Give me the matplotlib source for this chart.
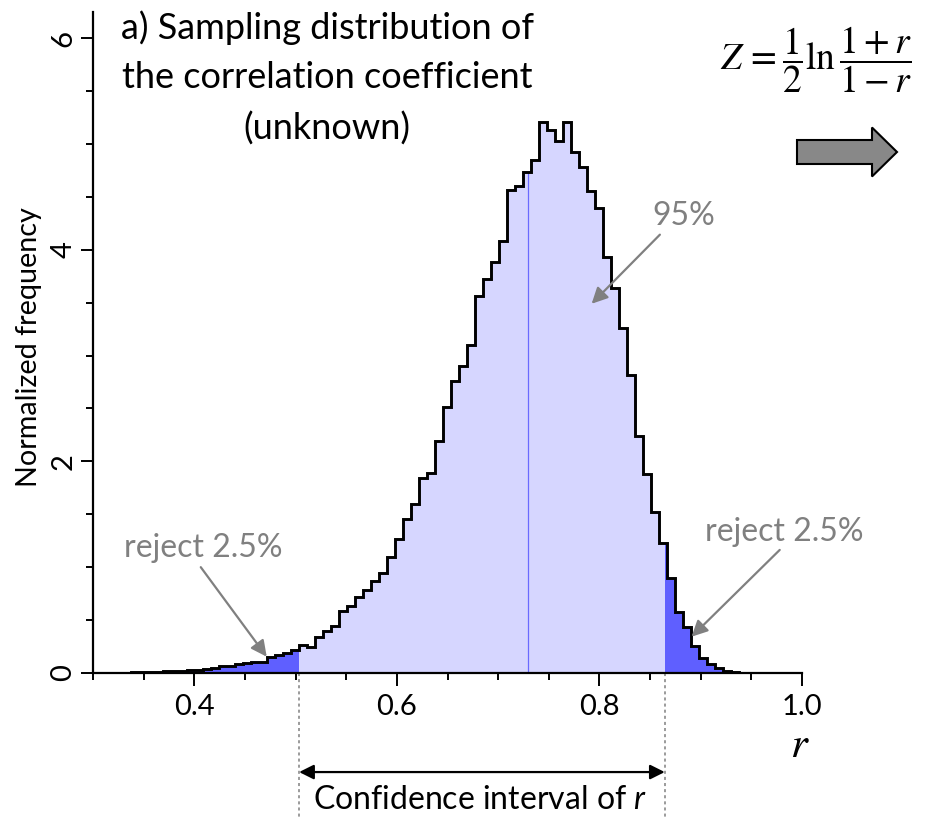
import numpy as np
import matplotlib
matplotlib.use("Agg")
import matplotlib.pyplot as plt
from matplotlib.patches import FancyArrow, Rectangle
from matplotlib.transforms import IdentityTransform
from matplotlib.ticker import MultipleLocator

plt.rcParams['font.family'] = ['Lato', 'DejaVu Sans']
plt.rcParams['mathtext.fontset'] = 'custom'
plt.rcParams['mathtext.rm'] = 'Lato'
plt.rcParams['mathtext.it'] = 'Lato:italic'

# ---------------- data ----------------
bin_start = 0.3220
bin_width = 0.0079
density = [
    0.003, 0.004, 0.006, 0.008, 0.010, 0.012, 0.015, 0.018, 0.022, 0.024,
    0.025, 0.041, 0.047, 0.063, 0.070, 0.085, 0.092, 0.100, 0.107, 0.148,
    0.170, 0.192, 0.217, 0.265, 0.249, 0.337, 0.400, 0.448, 0.586, 0.634,
    0.716, 0.785, 0.867, 0.949, 1.100, 1.264, 1.453, 1.598, 1.847, 1.894,
    2.190, 2.510, 2.755, 2.897, 3.100, 3.565, 3.720, 3.880, 4.085, 4.567,
    4.605, 4.730, 4.845, 5.204, 5.128, 5.030, 5.207, 4.927, 4.780, 4.550,
    4.390, 3.930, 3.638, 3.260, 2.812, 2.241, 1.882, 1.526, 1.226, 0.895,
    0.580, 0.430, 0.255, 0.139, 0.085, 0.044, 0.019, 0.010,
]
ci_low = 0.5035
ci_high = 0.8645
mean_r = 0.7297
x_ticks = [0.4, 0.6, 0.8, 1.0]
x_tick_labels = ['0.4', '0.6', '0.8', '1.0']
y_ticks = [0, 2, 4, 6]
y_tick_labels = ['0', '2', '4', '6']

density = np.array(density)
edges = bin_start + bin_width * np.arange(len(density) + 1)

# ---------------- figure ----------------
fig = plt.figure(figsize=(9.3, 8.18), dpi=100)
ax = fig.add_axes([93 / 930, 1 - 673 / 818, 709 / 930, 661 / 818])
ax.set_xlim(0.30, 1.0)
ax.set_ylim(0, 6.246)

light_c = '#d6d6ff'
dark_c = '#5f5fff'

ax.stairs(density, edges, fill=True, color=light_c, lw=0, zorder=1)
for a, b in [(0.0, ci_low), (ci_high, 2.0)]:
    s = ax.stairs(density, edges, fill=True, color=dark_c, lw=0, zorder=1.5)
    rect = Rectangle((a, -1), b - a, 20, transform=ax.transData)
    s.set_clip_path(rect)

idx = int((mean_r - bin_start) // bin_width)
ax.plot([mean_r, mean_r], [0, density[idx]], color='#6a6aff', lw=0.9, zorder=2)

ax.stairs(density, edges, color='black', lw=2.1, baseline=0, zorder=3)

for side in ['top', 'right']:
    ax.spines[side].set_visible(False)
for side in ['left', 'bottom']:
    ax.spines[side].set_linewidth(1.6)
    ax.spines[side].set_zorder(4)

ax.set_xticks(x_ticks)
ax.set_xticklabels(x_tick_labels)
ax.set_yticks(y_ticks)
ax.set_yticklabels(y_tick_labels, rotation=90, va='center')
ax.xaxis.set_minor_locator(MultipleLocator(0.05))
ax.yaxis.set_minor_locator(MultipleLocator(0.5))
ax.tick_params(which='major', direction='out', length=9, width=1.4, labelsize=21, pad=6)
ax.tick_params(which='minor', direction='out', length=5, width=1.4)
ax.tick_params(axis='y', which='major', pad=3)

ax.set_ylabel('Normalized frequency', fontsize=20.7)
ax.yaxis.set_label_coords((42 - 93) / 709, (673 - 347) / 661)

# x label "r"
ax.text(0.998, -0.68, r'$r$', math_fontfamily='stix', fontsize=31,
        ha='center', va='center', clip_on=False)

# confidence interval markers
y_bottom = -1.38
for c in (ci_low, ci_high):
    ax.plot([c, c], [0, y_bottom], ls=(0, (2, 2)), color='#808080', lw=1.1,
            clip_on=False, zorder=0)
ax.annotate('', xy=(ci_high, -0.936), xytext=(ci_low, -0.936),
            arrowprops=dict(arrowstyle='<|-|>', color='black', lw=1.6,
                            mutation_scale=22, shrinkA=0, shrinkB=0),
            annotation_clip=False)
ax.text((ci_low + ci_high) / 2 - 0.002, -1.20, r'Confidence interval of $r$', fontsize=23,
        ha='center', va='center', clip_on=False)

# gray annotations
gray = '#808080'
ann = dict(arrowstyle='-|>', color=gray, lw=1.6, mutation_scale=24, shrinkA=0, shrinkB=0)
ax.text(0.4086, 1.18, 'reject 2.5%', fontsize=23, color=gray, ha='center', va='center')
ax.annotate('', xy=(0.4715, 0.154), xytext=(0.4064, 1.00), arrowprops=ann)
ax.text(0.9826, 1.333, 'reject 2.5%', fontsize=23, color=gray, ha='center', va='center',
        clip_on=False)
ax.annotate('', xy=(0.891, 0.343), xytext=(0.978, 1.163), arrowprops=ann,
            annotation_clip=False)
ax.text(0.8829, 4.315, '95%', fontsize=23, color=gray, ha='center', va='center')
ax.annotate('', xy=(0.7923, 3.489), xytext=(0.8597, 4.142), arrowprops=ann)

# title block
fig.text(327 / 930, 1 - 78 / 818,
         'a) Sampling distribution of\nthe correlation coefficient\n(unknown)',
         fontsize=26, ha='center', va='center', multialignment='center',
         linespacing=1.6)

# formula
fig.text(816 / 930, 1 - 60 / 818, r'$Z\,=\dfrac{1}{2}\ln\dfrac{1+r}{1-r}$',
         math_fontfamily='stix', fontsize=27, ha='center', va='center')

# block arrow
arr = FancyArrow(797, 818 - 152, 100, 0, width=24, head_width=49, head_length=25,
                 length_includes_head=True, fc='#888888', ec='black', lw=1.5,
                 transform=IdentityTransform())
fig.add_artist(arr)

fig.savefig('out.png', dpi=100)
